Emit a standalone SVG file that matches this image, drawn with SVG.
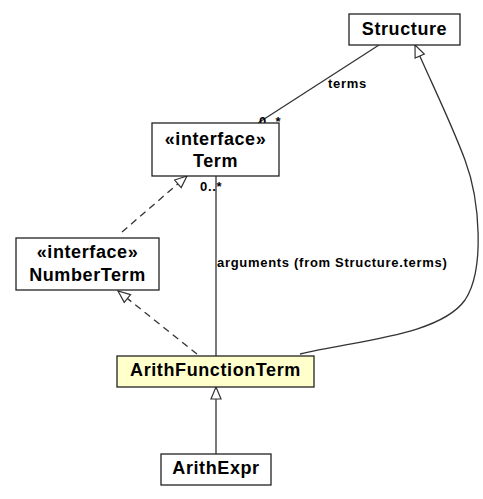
<svg xmlns="http://www.w3.org/2000/svg" width="483" height="499" viewBox="0 0 483 499">
<style>
.box{fill:#fff;stroke:#222;stroke-width:1.3}
.hl{fill:#ffffcc}
.name{font-family:"Liberation Sans",Arial,sans-serif;font-weight:bold;font-size:18px;letter-spacing:0.6px;text-anchor:middle;fill:#000}
.lbl{font-family:"Liberation Sans",Arial,sans-serif;font-weight:bold;font-size:13px;letter-spacing:0.7px;fill:#000}
.edge{fill:none;stroke:#333;stroke-width:1.3}
.dash{stroke-dasharray:7,5}
</style>
<defs>
<marker id="tri" markerUnits="userSpaceOnUse" markerWidth="14" markerHeight="12" refX="13" refY="6" orient="auto">
<path d="M1,1 L13,6 L1,11 Z" fill="#fff" stroke="#333" stroke-width="1.2"/>
</marker>
</defs>
<g id="connectors">
<line class="edge" x1="379" y1="45" x2="258" y2="123"/>
<line class="edge" x1="216" y1="176" x2="216" y2="356"/>
<line class="edge dash" x1="122" y1="232" x2="187" y2="176" marker-end="url(#tri)"/>
<line class="edge dash" x1="197" y1="354" x2="118" y2="291" marker-end="url(#tri)"/>
<path class="edge" d="M300,354 C360,340 440,335 465,300 C485,270 480,200 465,160 C450,120 430,80 415,45" marker-end="url(#tri)"/>
<line class="edge" x1="216" y1="454" x2="216" y2="387" marker-end="url(#tri)"/>
<text class="lbl" x="328" y="88">terms</text>
<text class="lbl" x="259" y="126">0..*</text>
<text class="lbl" x="200" y="191">0..*</text>
<text class="lbl" x="217" y="267">arguments (from Structure.terms)</text>
</g>
<g id="Structure">
<rect class="box" x="349" y="14" width="111" height="31"/>
<text class="name" x="404.5" y="35">Structure</text>
</g>
<g id="Term">
<rect class="box" x="152" y="123" width="127" height="53"/>
<text class="name" x="215.5" y="145">«interface»</text>
<text class="name" x="215.5" y="167">Term</text>
</g>
<g id="NumberTerm">
<rect class="box" x="16" y="238" width="143" height="52"/>
<text class="name" x="87.5" y="258">«interface»</text>
<text class="name" x="87.5" y="281">NumberTerm</text>
</g>
<g id="ArithFunctionTerm">
<rect class="box hl" x="117" y="356" width="197" height="31"/>
<text class="name" x="215.5" y="376">ArithFunctionTerm</text>
</g>
<g id="ArithExpr">
<rect class="box" x="161" y="454" width="110" height="31"/>
<text class="name" x="216" y="474">ArithExpr</text>
</g>
</svg>
